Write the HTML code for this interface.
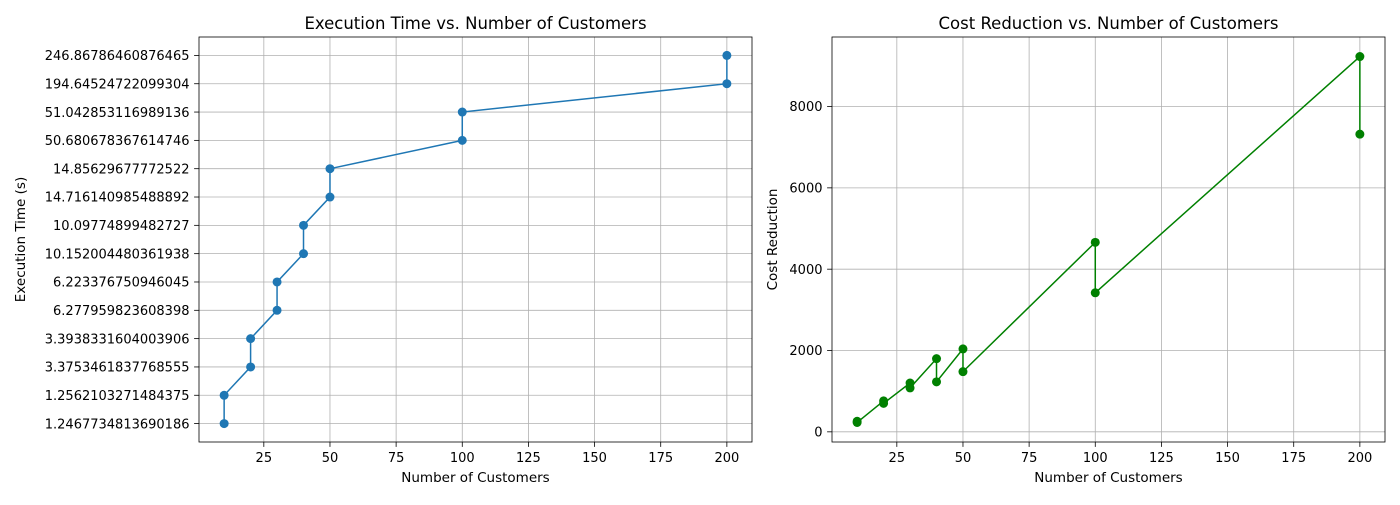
<!DOCTYPE html>
<html><head><meta charset="utf-8"><style>
body{margin:0;background:#fff;font-family:"Liberation Sans","DejaVu Sans",sans-serif;}
svg text{font-family:"DejaVu Sans","Liberation Sans",sans-serif;}
</style></head><body>
<svg id="c" width="1400" height="500" xmlns="http://www.w3.org/2000/svg"></svg>
<script>
const customers=[10,10,20,20,30,30,40,40,50,50,100,100,200,200];
const timeLabels=["1.2467734813690186","1.2562103271484375","3.3753461837768555","3.3938331604003906","6.277959823608398","6.223376750946045","10.152004480361938","10.09774899482727","14.716140985488892","14.85629677772522","50.680678367614746","51.042853116989136","194.64524722099304","246.86786460876465"];
const costValues=[260,230,760,700,1200,1080,1800,1230,2040,1480,4660,3420,9230,7320];
const xTicks=[25,50,75,100,125,150,175,200];
const costTicks=[0,2000,4000,6000,8000];

const NS="http://www.w3.org/2000/svg";
const svg=document.getElementById('c');
function el(t,a,p){const e=document.createElementNS(NS,t);for(const k in a)e.setAttribute(k,a[k]);(p||svg).appendChild(e);return e;}
function txt(s,a,p){const e=el('text',a,p);e.textContent=s;return e;}

function panel(L,R,T,B,xmin,xmax,ymin,ymax,color,yvals,yTickVals,yTickText,title,pfx){
  const g=el('g',{});
  
  
  const sx=v=>L+(v-xmin)/(xmax-xmin)*(R-L);
  const sy=v=>B-(v-ymin)/(ymax-ymin)*(B-T);
  xTicks.forEach(t=>{
    const x=sx(t);
    const gl=el('line',{x1:x,x2:x,y1:T,y2:B,stroke:'#b0b0b0','stroke-width':0.8},g);
    
    
    el('line',{x1:x,x2:x,y1:B,y2:B+4.9,stroke:'#000','stroke-width':0.8},g);
    const tl=txt(String(t),{x:x,y:B+20,'font-size':13,'text-anchor':'middle'},g);
    
    
  });
  yTickVals.forEach((t,i)=>{
    const y=sy(t);
    const gl=el('line',{x1:L,x2:R,y1:y,y2:y,stroke:'#b0b0b0','stroke-width':0.8},g);
    
    
    el('line',{x1:L-4.9,x2:L,y1:y,y2:y,stroke:'#000','stroke-width':0.8},g);
    const tl=txt(yTickText[i],{x:L-9.5,y:y+4.7,'font-size':13,'text-anchor':'end'},g);
    
    
  });
  const pts=customers.map((c,i)=>sx(c)+','+sy(yvals[i])).join(' ');
  const ln=el('polyline',{points:pts,fill:'none',stroke:color,'stroke-width':1.5},g);
  
  
  customers.forEach((c,i)=>{
    const m=el('circle',{cx:sx(c),cy:sy(yvals[i]),r:4.5,fill:color},g);
    
    
  });
  const fr=el('rect',{x:L,y:T,width:R-L,height:B-T,fill:'none',stroke:'#000','stroke-width':0.8},g);
  
  
  const ti=txt(title,{x:(L+R)/2,y:T-8,'font-size':16.5,'text-anchor':'middle'},g);
  
  
  const xl=txt('Number of Customers',{x:(L+R)/2,y:B+40,'font-size':13.5,'text-anchor':'middle'},g);
  
  
  return {g,sy};
}

const idx=timeLabels.map((_,i)=>i);
const yIdx=customers.map((_,i)=>i);
panel(199,752,37,442,0.5,209.5,-0.65,13.65,'#1f77b4',yIdx,idx,timeLabels,'Execution Time vs. Number of Customers','time');
const yl1=txt('Execution Time (s)',{x:0,y:0,'font-size':13.5,'text-anchor':'middle',transform:'translate(25,239.5) rotate(-90)'});



panel(832,1385,37,442,0.5,209.5,-250,9710,'#008000',costValues,costTicks,costTicks.map(String),'Cost Reduction vs. Number of Customers','cost');
const yl2=txt('Cost Reduction',{x:0,y:0,'font-size':13.5,'text-anchor':'middle',transform:'translate(777,239.5) rotate(-90)'});


</script>
</body></html>
